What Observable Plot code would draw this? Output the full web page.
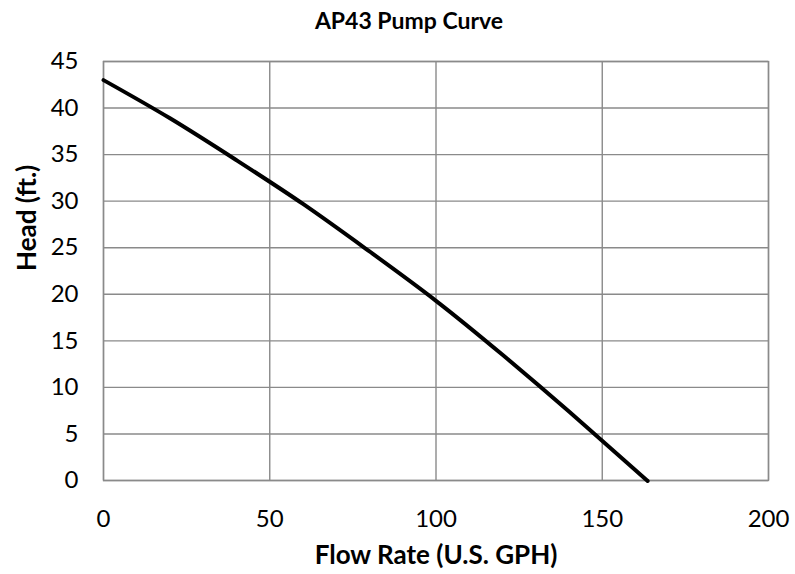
<!DOCTYPE html>
<html>
<head>
<meta charset="utf-8">
<script src="https://cdn.jsdelivr.net/npm/d3@7"></script>
<script src="https://cdn.jsdelivr.net/npm/@observablehq/plot@0.6"></script>
<style>
  html, body { margin: 0; padding: 0; background: #fff; }
  #chart svg { display: block; }
</style>
</head>
<body>
<div id="chart"></div>
<script>
const title = "AP43 Pump Curve";
const xLabel = "Flow Rate (U.S. GPH)";
const yLabel = "Head (ft.)";
const flowRate = [0, 20, 40, 60, 80, 100, 120, 140, 160, 163.5];
const head =     [43, 38.9, 34.4, 29.7, 24.6, 19.3, 13.5, 7.4, 1.1, 0];
const xTicks = [0, 50, 100, 150, 200];
const yTicks = [0, 5, 10, 15, 20, 25, 30, 35, 40, 45];

const data = flowRate.map((x, i) => ({x, y: head[i]}));
const font = "Lato, 'Open Sans', sans-serif";

const chart = Plot.plot({
  width: 795,
  height: 574,
  marginLeft: 103,
  marginRight: 27,
  marginTop: 61,
  marginBottom: 94,
  style: {fontFamily: font, background: "#fff", color: "#000"},
  x: {domain: [0, 200], ticks: xTicks},
  y: {domain: [0, 45], ticks: yTicks},
  marks: [
    Plot.gridX(xTicks, {stroke: "#8a8a8a", strokeOpacity: 1, strokeWidth: 1.4}),
    Plot.gridY(yTicks, {stroke: "#8a8a8a", strokeOpacity: 1, strokeWidth: 1.4}),
    Plot.frame({stroke: "#8a8a8a", strokeWidth: 1.4}),
    Plot.axisX(xTicks, {tickSize: 0, tickPadding: 29, fontSize: 24, label: null}),
    Plot.axisY(yTicks, {tickSize: 0, tickPadding: 25, fontSize: 24, label: null}),
    Plot.line(data, {x: "x", y: "y", curve: "natural", stroke: "#000", strokeWidth: 4}),
    Plot.text([title], {frameAnchor: "top", lineAnchor: "middle", dy: -40, dx: -27, fontSize: 23, fontWeight: "bold"}),
    Plot.text([xLabel], {frameAnchor: "bottom", lineAnchor: "middle", dy: 75, fontSize: 26, fontWeight: "bold"}),
    Plot.text([yLabel], {frameAnchor: "left", lineAnchor: "middle", dx: -76, rotate: -90, fontSize: 26, fontWeight: "bold"})
  ]
});
document.getElementById("chart").append(chart);
</script>
</body>
</html>
